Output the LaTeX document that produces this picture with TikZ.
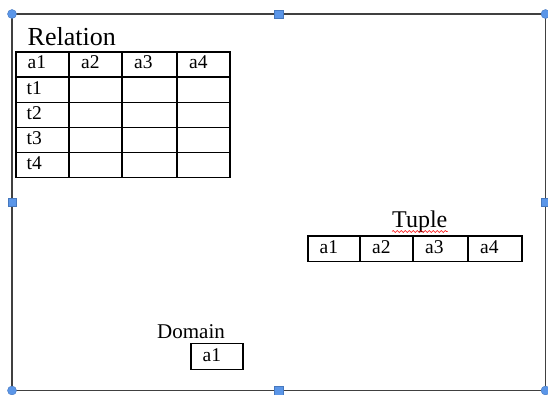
\documentclass[tikz,border=0pt]{standalone}
\usepackage{fontspec}
\setmainfont{Liberation Serif}
\usetikzlibrary{decorations.pathmorphing,calc}
\definecolor{framegray}{RGB}{64,64,64}
\definecolor{handlefill}{RGB}{91,150,232}
\definecolor{handleedge}{RGB}{70,120,190}
\tikzset{
  frameline/.style={draw=framegray, line width=1.6pt},
  gridline/.style={draw=black, line width=1.1pt},
  cornerhandle/.style={circle, fill=handlefill, draw=handleedge, line width=0.4pt, minimum size=9pt, inner sep=0pt},
  sidehandle/.style={rectangle, fill=handlefill, draw=handleedge, line width=0.4pt, minimum size=8.5pt, inner sep=0pt},
  celltext/.style={anchor=base west, inner sep=0pt, font=\fontsize{19.5}{19.5}\selectfont},
  titletext/.style={anchor=base west, inner sep=0pt},
}
\begin{document}
\begin{tikzpicture}[x=1pt, y=-1pt]
\useasboundingbox (0,0) rectangle (548,395);
\fill[white] (0,0) rectangle (548,395);

% outer frame
\coordinate (tl) at (12,14);
\coordinate (tr) at (545.5,14);
\coordinate (br) at (545.5,390.5);
\coordinate (bl) at (12,390.5);
\draw[frameline] (tl) -- (tr) -- (br) -- (bl) -- cycle;

% Relation table grid
\foreach \xa/\xb in {16/69, 69/122, 122/177, 177/230}{
  \foreach \ya/\yb in {52/77, 77/102.2, 102.2/127.4, 127.4/152.6, 152.6/177.8}{
    \draw[gridline] (\xa,\ya) rectangle (\xb,\yb);
  }
}
\node[titletext, font=\fontsize{26}{26}\selectfont] (relation) at (27.5,45.5) {Relation};
\node[celltext] (ra1) at (27.5,69) {a1};
\node[celltext] (ra2) at (81,69) {a2};
\node[celltext] (ra3) at (134,69) {a3};
\node[celltext] (ra4) at (189,69) {a4};
\node[celltext] (rt1) at (26.5,94.2) {t1};
\node[celltext] (rt2) at (26.5,119.4) {t2};
\node[celltext] (rt3) at (26.5,144.6) {t3};
\node[celltext] (rt4) at (26.5,169.8) {t4};

% Tuple row
\foreach \xa/\xb in {308/360, 360/413, 413/468, 468/522}{
  \draw[gridline] (\xa,236) rectangle (\xb,261.5);
}
\node[titletext, font=\fontsize{24}{24}\selectfont] (tuple) at (392,228) {Tuple};
\draw[red, line width=0.6pt, decorate, decoration={snake, amplitude=1pt, segment length=4pt}]
  ([yshift=-3.5pt]tuple.base west) -- ([yshift=-3.5pt]tuple.base east);
\node[celltext] (ta1) at (319.5,253.5) {a1};
\node[celltext] (ta2) at (372,253.5) {a2};
\node[celltext] (ta3) at (425,253.5) {a3};
\node[celltext] (ta4) at (480,253.5) {a4};

% Domain cell
\draw[gridline] (191,343.5) rectangle (243,369.5);
\node[titletext, font=\fontsize{21}{21}\selectfont] (domain) at (157,338.5) {Domain};
\node[celltext] (da1) at (202.5,361) {a1};

% selection handles
\node[cornerhandle] (htl) at (tl) {};
\node[cornerhandle] (htr) at (tr) {};
\node[cornerhandle] (hbr) at (br) {};
\node[cornerhandle] (hbl) at (bl) {};
\node[sidehandle] (htop) at ($(tl)!0.5!(tr)$) {};
\node[sidehandle] (hbot) at ($(bl)!0.5!(br)$) {};
\node[sidehandle] (hleft) at ($(tl)!0.5!(bl)$) {};
\node[sidehandle] (hright) at ($(tr)!0.5!(br)$) {};
\end{tikzpicture}
\end{document}
